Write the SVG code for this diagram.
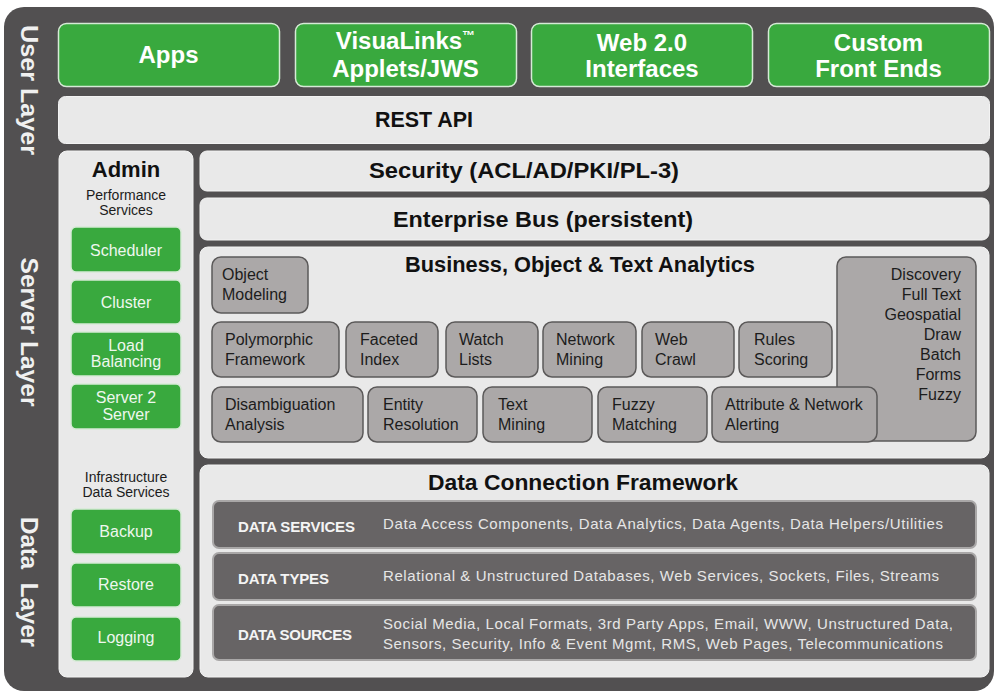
<svg xmlns="http://www.w3.org/2000/svg" width="996" height="694" viewBox="0 0 996 694">
<defs>
<style>
text{font-family:"Liberation Sans",Arial,sans-serif}
.bg{fill:#525051}
.panel{fill:#e9e9e9;stroke:#f3f3f3;stroke-width:1}
.green{fill:#39a93e;stroke:#d6ead6;stroke-width:1.5}
.gray{fill:#aba8a8;stroke:#5b5959;stroke-width:1.5}
.bar{fill:#676465;stroke:#a9a7a7;stroke-width:2}
.tg{font-size:24px;font-weight:700;fill:#ffffff;text-anchor:middle}
.tl{font-size:24px;font-weight:700;fill:#f0f0f0;text-anchor:middle}
.tt{font-size:22px;font-weight:700;fill:#111111}
.tb{font-size:16px;fill:#1c1c1c}
.ts{font-size:14px;fill:#1c1c1c;text-anchor:middle}
.tbtn{font-size:16px;fill:#eef7ee;text-anchor:middle}
.tdl{font-size:15px;font-weight:700;fill:#f4f4f4}
.tdt{font-size:15px;fill:#e6e6e6}
</style>
</defs>
<rect class="bg" x="4" y="7" width="990" height="684" rx="20"/>

<g id="layer-labels">
<text class="tl" transform="translate(21,90) rotate(90)" textLength="130" lengthAdjust="spacingAndGlyphs">User Layer</text>
<text class="tl" transform="translate(21,332) rotate(90)" textLength="149" lengthAdjust="spacingAndGlyphs">Server Layer</text>
<text class="tl" transform="translate(21,582) rotate(90)" textLength="130" lengthAdjust="spacingAndGlyphs" xml:space="preserve">Data  Layer</text>
</g>

<g id="apps">
<rect class="green" x="58.5" y="23.5" width="221" height="63" rx="8"/>
<text class="tg" x="168.5" y="63">Apps</text>
</g>
<g id="visualinks">
<rect class="green" x="295.5" y="23.5" width="221" height="63" rx="8"/>
<text class="tg" x="405.5" y="49">VisuaLinks<tspan font-size="13" dy="-9">™</tspan></text>
<text class="tg" x="405.5" y="77">Applets/JWS</text>
</g>
<g id="web20">
<rect class="green" x="531.5" y="23.5" width="221" height="63" rx="8"/>
<text class="tg" x="642" y="51">Web 2.0</text>
<text class="tg" x="642" y="77">Interfaces</text>
</g>
<g id="custom">
<rect class="green" x="768.5" y="23.5" width="221" height="63" rx="8"/>
<text class="tg" x="878.5" y="51">Custom</text>
<text class="tg" x="878.5" y="77">Front Ends</text>
</g>

<g id="rest-api">
<rect class="panel" x="58.5" y="96.5" width="931" height="47" rx="7"/>
<text class="tt" x="375" y="127" textLength="98" lengthAdjust="spacingAndGlyphs">REST API</text>
</g>

<g id="admin">
<rect class="panel" x="59" y="151" width="134" height="526" rx="8"/>
<text class="tt" x="126" y="177" font-size="21" text-anchor="middle">Admin</text>
<text class="ts" x="126" y="200">Performance</text>
<text class="ts" x="126" y="215">Services</text>
<text class="ts" x="126" y="482">Infrastructure</text>
<text class="ts" x="126" y="497">Data Services</text>
</g>
<g id="scheduler">
<rect class="green" x="71" y="227" width="110" height="45" rx="5"/>
<text class="tbtn" x="126" y="256">Scheduler</text>
</g>
<g id="cluster">
<rect class="green" x="71" y="280" width="110" height="44" rx="5"/>
<text class="tbtn" x="126" y="308">Cluster</text>
</g>
<g id="load-balancing">
<rect class="green" x="71" y="332" width="110" height="44" rx="5"/>
<text class="tbtn" x="126" y="351">Load</text>
<text class="tbtn" x="126" y="367">Balancing</text>
</g>
<g id="server2server">
<rect class="green" x="71" y="384" width="110" height="45" rx="5"/>
<text class="tbtn" x="126" y="403">Server 2</text>
<text class="tbtn" x="126" y="420">Server</text>
</g>
<g id="backup">
<rect class="green" x="71" y="509" width="110" height="45" rx="5"/>
<text class="tbtn" x="126" y="537">Backup</text>
</g>
<g id="restore">
<rect class="green" x="71" y="563" width="110" height="44" rx="5"/>
<text class="tbtn" x="126" y="590">Restore</text>
</g>
<g id="logging">
<rect class="green" x="71" y="617" width="110" height="44" rx="5"/>
<text class="tbtn" x="126" y="643">Logging</text>
</g>

<g id="security">
<rect class="panel" x="200" y="151" width="789" height="40" rx="7"/>
<text class="tt" x="369" y="178" textLength="310" lengthAdjust="spacingAndGlyphs">Security (ACL/AD/PKI/PL-3)</text>
</g>
<g id="enterprise-bus">
<rect class="panel" x="200" y="198" width="789" height="42" rx="7"/>
<text class="tt" x="393" y="227" textLength="300" lengthAdjust="spacingAndGlyphs">Enterprise Bus (persistent)</text>
</g>

<g id="analytics">
<rect class="panel" x="200" y="247" width="789" height="211" rx="8"/>
<text class="tt" x="405" y="272" textLength="350" lengthAdjust="spacingAndGlyphs">Business, Object &amp; Text Analytics</text>
</g>
<g id="object-modeling">
<rect class="gray" x="212" y="257" width="96" height="56" rx="9"/>
<text class="tb" x="222" y="280">Object</text>
<text class="tb" x="222" y="300">Modeling</text>
</g>
<g id="search-features">
<rect class="gray" x="837" y="257" width="139" height="184" rx="9"/>
<text class="tb" text-anchor="end" x="961" y="280">Discovery</text>
<text class="tb" text-anchor="end" x="961" y="300">Full Text</text>
<text class="tb" text-anchor="end" x="961" y="320">Geospatial</text>
<text class="tb" text-anchor="end" x="961" y="340">Draw</text>
<text class="tb" text-anchor="end" x="961" y="360">Batch</text>
<text class="tb" text-anchor="end" x="961" y="380">Forms</text>
<text class="tb" text-anchor="end" x="961" y="400">Fuzzy</text>
</g>
<g id="polymorphic">
<rect class="gray" x="212" y="322" width="127" height="55" rx="9"/>
<text class="tb" x="225" y="345">Polymorphic</text>
<text class="tb" x="225" y="365">Framework</text>
</g>
<g id="faceted">
<rect class="gray" x="346" y="322" width="92" height="55" rx="9"/>
<text class="tb" x="360" y="345">Faceted</text>
<text class="tb" x="360" y="365">Index</text>
</g>
<g id="watch">
<rect class="gray" x="446" y="322" width="92" height="55" rx="9"/>
<text class="tb" x="459" y="345">Watch</text>
<text class="tb" x="459" y="365">Lists</text>
</g>
<g id="network-mining">
<rect class="gray" x="543" y="322" width="93" height="55" rx="9"/>
<text class="tb" x="556" y="345">Network</text>
<text class="tb" x="556" y="365">Mining</text>
</g>
<g id="web-crawl">
<rect class="gray" x="642" y="322" width="92" height="55" rx="9"/>
<text class="tb" x="655" y="345">Web</text>
<text class="tb" x="655" y="365">Crawl</text>
</g>
<g id="rules-scoring">
<rect class="gray" x="739" y="322" width="93" height="55" rx="9"/>
<text class="tb" x="754" y="345">Rules</text>
<text class="tb" x="754" y="365">Scoring</text>
</g>
<g id="disambiguation">
<rect class="gray" x="212" y="387" width="151" height="55" rx="9"/>
<text class="tb" x="225" y="410">Disambiguation</text>
<text class="tb" x="225" y="430">Analysis</text>
</g>
<g id="entity-resolution">
<rect class="gray" x="368" y="387" width="109" height="55" rx="9"/>
<text class="tb" x="383" y="410">Entity</text>
<text class="tb" x="383" y="430">Resolution</text>
</g>
<g id="text-mining">
<rect class="gray" x="483" y="387" width="109" height="55" rx="9"/>
<text class="tb" x="498" y="410">Text</text>
<text class="tb" x="498" y="430">Mining</text>
</g>
<g id="fuzzy-matching">
<rect class="gray" x="598" y="387" width="109" height="55" rx="9"/>
<text class="tb" x="612" y="410">Fuzzy</text>
<text class="tb" x="612" y="430">Matching</text>
</g>
<g id="attribute-alerting">
<rect class="gray" x="712" y="387" width="165" height="55" rx="9"/>
<text class="tb" x="725" y="410">Attribute &amp; Network</text>
<text class="tb" x="725" y="430">Alerting</text>
</g>

<g id="data-connection">
<rect class="panel" x="200" y="465" width="789" height="212" rx="8"/>
<text class="tt" x="428" y="490" textLength="310" lengthAdjust="spacingAndGlyphs">Data Connection Framework</text>
</g>
<g id="data-services">
<rect class="bar" x="213" y="501" width="763" height="47" rx="6"/>
<text class="tdl" x="238" y="532" textLength="117">DATA SERVICES</text>
<text class="tdt" x="383" y="529" textLength="560">Data Access Components, Data Analytics, Data Agents, Data Helpers/Utilities</text>
</g>
<g id="data-types">
<rect class="bar" x="213" y="553" width="763" height="47" rx="6"/>
<text class="tdl" x="238" y="584" textLength="91">DATA TYPES</text>
<text class="tdt" x="383" y="581" textLength="556">Relational &amp; Unstructured Databases, Web Services, Sockets, Files, Streams</text>
</g>
<g id="data-sources">
<rect class="bar" x="213" y="605" width="763" height="55" rx="6"/>
<text class="tdl" x="238" y="640" textLength="114">DATA SOURCES</text>
<text class="tdt" x="383" y="629" textLength="570">Social Media, Local Formats, 3rd Party Apps, Email, WWW, Unstructured Data,</text>
<text class="tdt" x="383" y="649" textLength="560">Sensors, Security, Info &amp; Event Mgmt, RMS, Web Pages, Telecommunications</text>
</g>
</svg>
